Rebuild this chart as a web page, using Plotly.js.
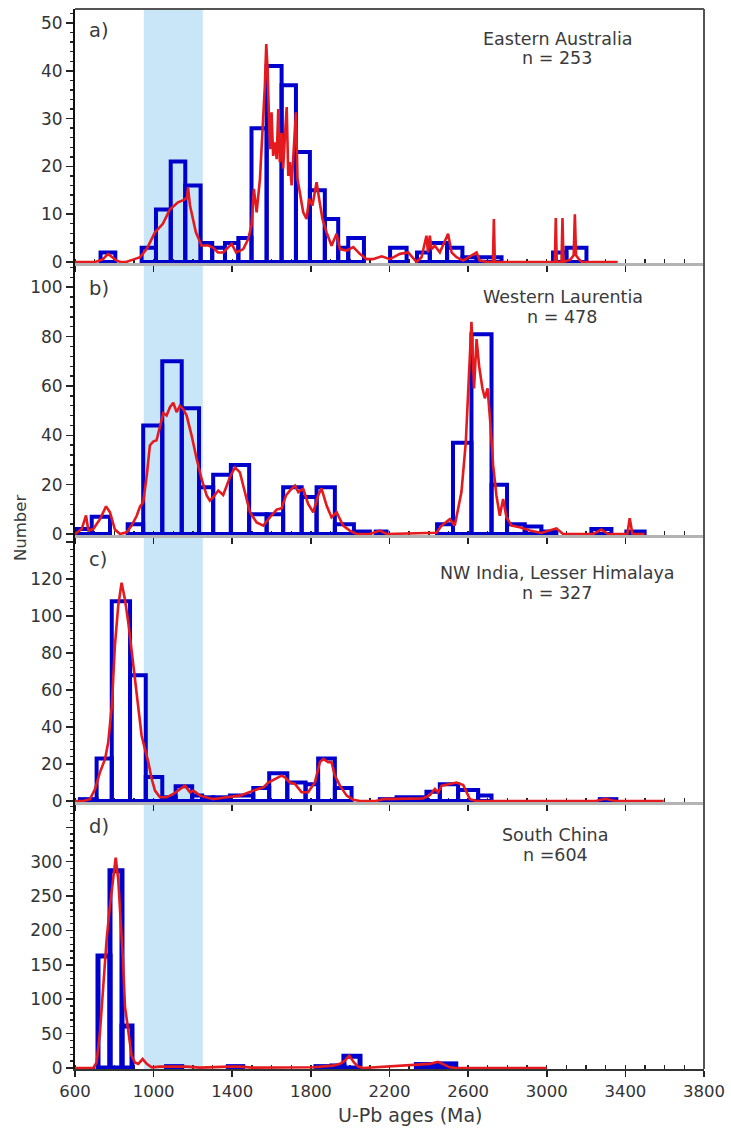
<!DOCTYPE html>
<html>
<head>
<meta charset="utf-8">
<script src="https://cdn.plot.ly/plotly-3.0.1.min.js"></script>
<style>html,body{margin:0;padding:0;background:#fff;}#chart{width:731px;height:1134px;}</style>
</head>
<body>
<div id="chart"></div>
<script>
// ---------- DATA (ages in Ma, counts) ----------
// a) Eastern Australia
const aBinLo = [730, 939, 1012, 1087, 1161, 1239, 1298, 1363, 1431, 1498, 1575, 1651, 1724, 1795, 1871, 1939, 1990, 2203, 2340, 2405, 2493, 2571, 2643, 3032, 3100];
const aBinHi = [805, 1012, 1087, 1161, 1239, 1298, 1363, 1431, 1498, 1575, 1651, 1724, 1795, 1871, 1939, 1990, 2070, 2287, 2405, 2493, 2571, 2643, 2770, 3100, 3202];
const aCount = [2, 3, 11, 21, 16, 4, 3, 4, 5, 28, 41, 37, 23, 15, 9, 3, 5, 3, 2, 4, 3, 1, 1, 2, 3];
const aCurveAge = [600, 702, 740, 768, 790, 808, 830, 860, 895, 931, 966, 1007, 1047, 1083, 1124, 1154, 1170, 1175, 1185, 1195, 1215, 1244, 1276, 1302, 1327, 1354, 1383, 1397, 1420, 1456, 1481, 1498, 1510, 1524, 1541, 1554, 1566, 1573, 1580, 1587, 1593, 1600, 1608, 1617, 1626, 1634, 1642, 1651, 1659, 1668, 1677, 1685, 1693, 1702, 1710, 1724, 1732, 1744, 1761, 1778, 1791, 1808, 1829, 1842, 1859, 1880, 1905, 1931, 1948, 1982, 2016, 2049, 2083, 2115, 2160, 2202, 2253, 2295, 2338, 2363, 2388, 2396, 2405, 2414, 2431, 2456, 2498, 2516, 2541, 2575, 2643, 2659, 2700, 2726, 2731, 2736, 3041, 3046, 3051, 3075, 3080, 3085, 3120, 3137, 3143, 3149, 3165, 3180, 3361];
const aCurveVal = [0, 0, 0.5, 1.7, 1, 0.4, 0, 0, 0.5, 1, 2.8, 6.2, 8, 11, 12.5, 13, 13.5, 15.6, 11.8, 10, 6.2, 3.4, 3.5, 3, 2, 2, 3.1, 3.8, 2, 2.7, 4.8, 7.6, 15.3, 10.4, 17.4, 26.4, 36.9, 45.6, 40, 30, 23.6, 31.3, 22.2, 25, 21.5, 32, 20.9, 27, 19.5, 26.4, 32.4, 18, 20.9, 16, 22.2, 31.3, 17.4, 14.6, 10.4, 9, 13.2, 11.8, 16.7, 13.2, 9, 6.2, 3.4, 5.9, 2.7, 2.4, 3.1, 1.7, 0.6, 0.6, 1.2, 0.6, 1.7, 2, 0, 1, 5.5, 2, 5.5, 2.7, 3.4, 2, 5.9, 2, 1, 0.3, 2, 0.3, 0, 0, 9, 0, 0, 9.2, 0, 0, 9.2, 0, 0.5, 1.4, 10, 1.4, 0.5, 0, 0];

// b) Western Laurentia
const bBinLo = [600, 685, 868, 947, 1044, 1143, 1231, 1303, 1393, 1486, 1575, 1659, 1753, 1829, 1922, 2019, 2130, 2442, 2523, 2617, 2719, 2798, 2888, 2973, 3227, 3405];
const bBinHi = [685, 778, 947, 1044, 1143, 1231, 1303, 1393, 1486, 1575, 1659, 1753, 1829, 1922, 2019, 2100, 2185, 2523, 2617, 2719, 2798, 2888, 2973, 3049, 3329, 3498];
const bCount = [2, 7, 4, 44, 70, 51, 19, 24, 28, 8, 8, 19, 15, 19, 4, 1, 1, 4, 37, 81, 20, 4, 3, 1, 2, 1];
const bCurveAge = [600, 634, 656, 668, 693, 727, 758, 778, 803, 829, 863, 888, 914, 931, 947, 965, 981, 998, 1015, 1032, 1049, 1066, 1083, 1100, 1117, 1134, 1151, 1168, 1193, 1219, 1244, 1270, 1286, 1303, 1329, 1354, 1388, 1414, 1439, 1464, 1490, 1524, 1558, 1592, 1626, 1651, 1673, 1693, 1719, 1736, 1761, 1786, 1812, 1837, 1854, 1880, 1905, 1931, 1964, 1998, 2032, 2100, 2130, 2151, 2185, 2354, 2439, 2465, 2507, 2532, 2566, 2588, 2603, 2617, 2630, 2643, 2656, 2673, 2685, 2699, 2714, 2727, 2744, 2761, 2778, 2795, 2821, 2863, 2914, 2973, 3049, 3083, 3236, 3278, 3312, 3410, 3422, 3436, 3498];
const bCurveVal = [0, 2, 7.5, 1.4, 2, 6, 11.2, 8.8, 1.8, 0, 0.7, 3.4, 7.4, 11.2, 12.9, 23.7, 35.9, 37.5, 38, 44, 49, 48, 51.4, 53.2, 49.4, 52, 50.5, 48, 40, 30.4, 22.3, 15.6, 13.5, 14.9, 17.6, 15.8, 23, 27, 25, 17, 8.8, 4.7, 3.4, 6.8, 9.9, 10.4, 15.6, 17.6, 19.6, 17, 18.3, 12.2, 8.8, 15.6, 18.5, 11.5, 6.8, 8.8, 3.4, 1.4, 0, 0, 0.7, 1.4, 0, 0.5, 0.5, 3.4, 6, 3.4, 17, 37, 60, 86, 59, 79, 68, 59, 55, 59, 44, 28, 15.6, 7.4, 14.2, 6.8, 3.4, 2.7, 1.4, 0.4, 2.3, 0, 0, 1.8, 0, 0, 6.4, 0, 0];

// c) NW India, Lesser Himalaya
const cBinLo = [625, 710, 787, 880, 960, 1044, 1112, 1196, 1247, 1303, 1388, 1507, 1588, 1680, 1773, 1837, 1922, 2151, 2236, 2388, 2456, 2549, 2651, 3270];
const cBinHi = [710, 787, 880, 960, 1044, 1112, 1196, 1247, 1303, 1388, 1507, 1588, 1680, 1773, 1837, 1922, 2007, 2236, 2388, 2456, 2549, 2651, 2719, 3354];
const cCount = [1, 23, 108, 68, 13, 2, 8, 3, 2, 2, 3, 7, 15, 10, 9, 23, 7, 1, 2, 5, 9, 6, 3, 1];
const cCurveAge = [600, 642, 676, 702, 727, 753, 769, 787, 803, 820, 837, 854, 871, 888, 905, 922, 939, 956, 973, 990, 1007, 1032, 1066, 1100, 1134, 1159, 1185, 1202, 1236, 1303, 1371, 1439, 1507, 1558, 1583, 1617, 1651, 1668, 1693, 1719, 1753, 1786, 1820, 1846, 1863, 1888, 1905, 1922, 1948, 1982, 2015, 2050, 2130, 2168, 2303, 2370, 2405, 2431, 2448, 2465, 2507, 2541, 2575, 2592, 2609, 2643, 3250, 3270, 3300, 3336, 3360, 3595];
const cCurveVal = [0, 0, 1, 6.5, 15.5, 22.7, 31.7, 51, 84, 105.6, 118, 109, 96.6, 82, 66, 49.7, 35.3, 28, 21, 12, 5.6, 2, 2, 3.8, 6.5, 8.3, 4.7, 5.6, 2.9, 1, 2, 2.9, 5.6, 7.4, 10, 12, 13.7, 12.8, 10, 9.2, 4.7, 4.7, 10, 21, 22.7, 21, 21, 13.7, 8.3, 2.9, 0.7, 0, 0, 1, 1.4, 1.4, 3.2, 6.5, 4.7, 8.3, 9.2, 10, 8.6, 4.7, 1, 0, 0, 0.5, 1.2, 0.3, 0, 0];

// d) South China
const dBinLo = [717, 778, 839, 1066, 1380, 1826, 1907, 1968, 2337, 2446];
const dBinHi = [778, 839, 890, 1143, 1453, 1907, 1968, 2050, 2446, 2537];
const dCount = [163, 287, 61, 2, 2, 2, 3, 17, 5, 6];
const dCurveAge = [600, 693, 710, 727, 744, 761, 778, 795, 807, 820, 832, 843, 854, 871, 888, 905, 922, 944, 965, 990, 1032, 1168, 1236, 1388, 1439, 1500, 1709, 1810, 1913, 1948, 1973, 1995, 2019, 2041, 2066, 2354, 2405, 2447, 2473, 2507, 2540, 3000];
const dCurveVal = [0, 0, 8, 52, 120, 187, 236, 279, 306, 274, 221, 163, 90, 52, 18, 8, 6, 13, 6, 1, 2, 2, 0.5, 2, 2, 0.5, 1, 1, 3.4, 6, 10.6, 18, 8, 2, 0, 5, 6, 9, 6, 1, 0, 0];

const panelLetters = ['a)', 'b)', 'c)', 'd)'];
const regionNames = ['Eastern Australia', 'Western Laurentia', 'NW India, Lesser Himalaya', 'South China'];
const regionN = ['n = 253', 'n = 478', 'n = 327', 'n =604'];
const xTickVals = [600, 1000, 1400, 1800, 2200, 2600, 3000, 3400, 3800];
const aYTicks = [0, 10, 20, 30, 40, 50];
const bYTicks = [0, 20, 40, 60, 80, 100];
const cYTicks = [0, 20, 40, 60, 80, 100, 120, 140];
const cYTickText = ['0', '20', '40', '60', '80', '100', '120', ''];
const dYTicks = [0, 50, 100, 150, 200, 250, 300, 350];
const dYTickText = ['0', '50', '100', '150', '200', '250', '300', ''];
const bandAge = [950, 1250];

// ---------- LAYOUT HELPERS ----------
const W = 731, H = 1134, ML = 75, MR = 27, MT = 9, MB = 65;
const PW = W - ML - MR, PH = H - MT - MB;
const px2x = p => (p - ML) / PW;
const py2y = p => (H - MB - p) / PH;
const FONT = 'DejaVu Sans, Verdana, sans-serif';
const TXT = '#3a3a3a';
const BLUE = '#0000cc';
const RED = '#e41a1e';

const centers = (lo, hi) => lo.map((l, i) => (l + hi[i]) / 2);
const widths = (lo, hi) => lo.map((l, i) => hi[i] - l);

const panels = [
  {lo: aBinLo, hi: aBinHi, n: aCount, ca: aCurveAge, cv: aCurveVal},
  {lo: bBinLo, hi: bBinHi, n: bCount, ca: bCurveAge, cv: bCurveVal},
  {lo: cBinLo, hi: cBinHi, n: cCount, ca: cCurveAge, cv: cCurveVal},
  {lo: dBinLo, hi: dBinHi, n: dCount, ca: dCurveAge, cv: dCurveVal}
];

const traces = [];
panels.forEach((p, i) => {
  const xa = i === 0 ? 'x' : 'x' + (i + 1);
  const ya = i === 0 ? 'y' : 'y' + (i + 1);
  traces.push({
    type: 'bar', x: centers(p.lo, p.hi), y: p.n, width: widths(p.lo, p.hi),
    xaxis: xa, yaxis: ya, cliponaxis: false, hoverinfo: 'skip', showlegend: false,
    marker: {color: 'rgba(0,0,0,0)', line: {color: BLUE, width: i === 3 ? 5 : 4}}
  });
  traces.push({
    type: 'scatter', mode: 'lines', x: p.ca, y: p.cv, xaxis: xa, yaxis: ya,
    line: {color: RED, width: 2.6}, hoverinfo: 'skip', showlegend: false
  });
});

// panel pixel geometry: [top px, bottom px, px per unit]
const geo = [[9, 263, 4.78], [263, 535, 2.467], [535, 802, 1.85], [802, 1069, 0.6877]];
const yTicks = [
  {vals: aYTicks, text: aYTicks.map(String), minor: 2},
  {vals: bYTicks, text: bYTicks.map(String), minor: 4},
  {vals: cYTicks, text: cYTickText, minor: 4},
  {vals: dYTicks, text: dYTickText, minor: 10}
];

const layout = {
  width: W, height: H, margin: {l: ML, r: MR, t: MT, b: MB},
  paper_bgcolor: '#fff', plot_bgcolor: 'rgba(0,0,0,0)',
  barmode: 'overlay', showlegend: false,
  font: {family: FONT, color: TXT},
  shapes: [], annotations: []
};

geo.forEach((g, i) => {
  const [top, bot, k] = g;
  const dom = [py2y(bot), py2y(top)];
  const yr = [-1 / k, (bot - 1 - top) / k];
  const sfx = i === 0 ? '' : String(i + 1);
  const ov = String(i + 5);
  const isLast = i === 3;
  layout['xaxis' + sfx] = {
    domain: [0, 1], range: [600, 3800], anchor: 'y' + sfx,
    tickmode: 'array', tickvals: xTickVals, ticktext: xTickVals.map(String),
    showticklabels: isLast, ticks: 'outside', ticklen: 6, tickwidth: 1.6, tickcolor: '#222',
    minor: {dtick: 100, tick0: 600, ticks: 'inside', ticklen: 4, tickwidth: 1.4, tickcolor: '#222'},
    showline: true, linecolor: isLast ? '#333' : '#b4b4b4', linewidth: isLast ? 2 : 2.5,
    showgrid: false, zeroline: false, layer: 'below traces',
    tickfont: {family: FONT, size: 16.5, color: '#333'}
  };
  layout['xaxis' + ov] = {
    overlaying: 'x' + sfx, anchor: 'y' + sfx, range: [600, 3800], side: 'bottom',
    tickmode: 'array', tickvals: xTickVals, showticklabels: false,
    ticks: 'inside', ticklen: 5, tickwidth: 1.6, tickcolor: '#222',
    showline: false, showgrid: false, zeroline: false, layer: 'below traces'
  };
  layout['yaxis' + sfx] = {
    domain: dom, range: yr, anchor: 'x' + sfx,
    tickmode: 'array', tickvals: yTicks[i].vals, ticktext: yTicks[i].text,
    ticks: 'outside', ticklen: 7, tickwidth: 1.6, tickcolor: '#222',
    minor: {dtick: yTicks[i].minor, tick0: 0, ticks: 'outside', ticklen: 3, tickwidth: 1.4, tickcolor: '#222'},
    showline: true, linecolor: '#111', linewidth: 2,
    showgrid: false, zeroline: false,
    tickfont: {family: FONT, size: 17, color: '#333'}
  };
  layout['yaxis' + ov] = {
    overlaying: 'y' + sfx, anchor: 'x' + sfx, range: yr, side: 'left',
    tickmode: 'array', tickvals: yTicks[i].vals, showticklabels: false,
    ticks: 'inside', ticklen: 5, tickwidth: 1.6, tickcolor: '#222',
    minor: {dtick: yTicks[i].minor, tick0: 0, ticks: 'inside', ticklen: 4, tickwidth: 1.4, tickcolor: '#222'},
    showline: false, showgrid: false, zeroline: false
  };
});

// light blue band across all panels
layout.shapes.push({type: 'rect', xref: 'x', yref: 'paper', x0: bandAge[0], x1: bandAge[1], y0: 0, y1: 1,
  fillcolor: 'rgb(200,230,248)', line: {width: 0}, layer: 'below'});
// frame: top and right borders
layout.shapes.push({type: 'line', xref: 'paper', yref: 'paper', x0: 0, x1: 1, y0: 1, y1: 1, line: {color: '#555', width: 2}});
layout.shapes.push({type: 'line', xref: 'paper', yref: 'paper', x0: 1, x1: 1, y0: 0, y1: 1, line: {color: '#555', width: 2}});

// text positions (pixels)
const letterY = [30, 288, 559.5, 827];
const nameXY = [[557, 39], [563, 297], [557, 573], [555, 835]];
const nXY = [[557, 58], [562, 317], [557, 593], [555, 855]];
const ann = (t, px, py, size, extra) => Object.assign({
  text: t, xref: 'paper', yref: 'paper', x: px2x(px), y: py2y(py), showarrow: false,
  xanchor: 'center', yanchor: 'middle', font: {family: FONT, size: size, color: TXT}
}, extra || {});
for (let i = 0; i < 4; i++) {
  layout.annotations.push(ann(panelLetters[i], 87, letterY[i], 19.5, {xanchor: 'left'}));
  layout.annotations.push(ann(regionNames[i], nameXY[i][0], nameXY[i][1], 17.5));
  layout.annotations.push(ann(regionN[i], nXY[i][0], nXY[i][1], 17.5));
}
layout.annotations.push(ann('Number', 20, 528, 16.5, {textangle: -90}));
layout.annotations.push(ann('U-Pb ages (Ma)', 410, 1115, 19));

Plotly.newPlot('chart', traces, layout, {staticPlot: true, displayModeBar: false});
</script>
</body>
</html>
